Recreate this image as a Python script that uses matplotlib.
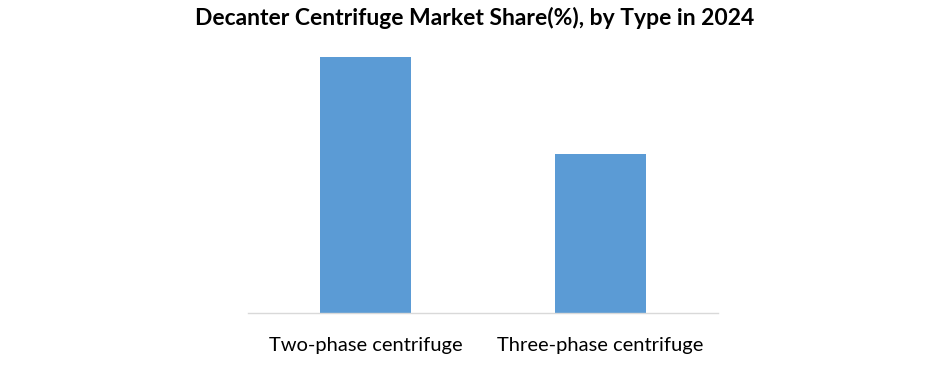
import matplotlib.pyplot as plt

# market share by type
categories = ["Two-phase centrifuge", "Three-phase centrifuge"]
share = [62, 38.5]

plt.rcParams['font.family'] = ['Lato', 'DejaVu Sans']

fig = plt.figure(figsize=(9.5, 3.71), dpi=100)
ax = fig.add_axes([248 / 950, 1 - 313 / 371, 470 / 950, 0.78])

ax.bar(range(len(categories)), share, width=0.39, color="#5B9BD5")
ax.set_xlim(-0.5, 1.5)
ax.set_ylim(0, 70)

ax.set_xticks(range(len(categories)))
ax.set_xticklabels(categories, fontsize=14.5, color="#000000")
ax.tick_params(axis="x", length=0, pad=17)
ax.set_yticks([])

for side in ["top", "right", "left"]:
    ax.spines[side].set_visible(False)
ax.spines["bottom"].set_color("#D9D9D9")
ax.spines["bottom"].set_linewidth(1)

fig.suptitle("Decanter Centrifuge Market Share(%), by Type in 2024",
             fontsize=16.5, fontweight="bold", y=0.98)

fig.savefig("out.png", dpi=100, facecolor="white")
